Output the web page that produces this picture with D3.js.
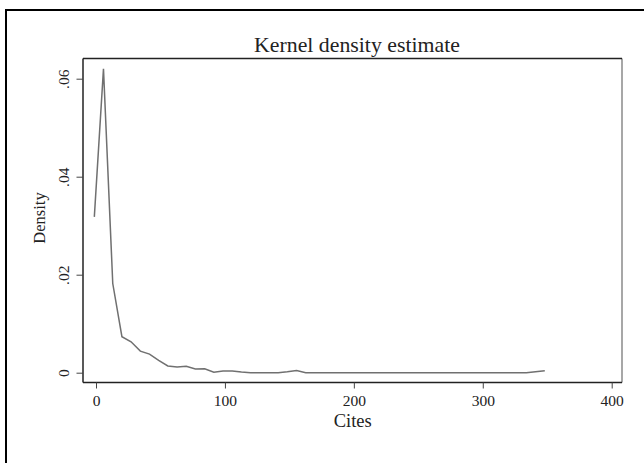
<!DOCTYPE html>
<html lang="en">
<head>
<meta charset="UTF-8">
<script src="https://cdn.jsdelivr.net/npm/d3@7"></script>
<style>
  body { margin: 0; background: #fff; }
  text { font-family: "Liberation Serif", "DejaVu Serif", serif; fill: #222; }
</style>
</head>
<body>
<div id="fig"></div>
<script>
// kernel density evaluation points (cites) and estimated density
const cites = [-1.3, 5.8, 13.0, 20.1, 27.2, 34.4, 41.5, 48.6, 55.7, 62.9,
  70.0, 77.1, 84.3, 91.4, 98.5, 105.7, 112.8, 119.9, 127.0, 134.2,
  141.3, 148.4, 155.6, 162.7, 169.8, 177.0, 184.1, 191.2, 198.3, 205.5,
  212.6, 219.7, 226.9, 234.0, 241.1, 248.2, 255.4, 262.5, 269.6, 276.8,
  283.9, 291.0, 298.1, 305.3, 312.4, 319.5, 326.7, 333.8, 340.9, 348.1];
const density = [0.0318, 0.0620, 0.0182, 0.00735, 0.0063, 0.0044, 0.0038, 0.0025, 0.00137, 0.00116,
  0.0013, 0.00075, 0.0008, 0.0001, 0.00035, 0.00035, 0.00015, 0, 0, 0,
  0, 0.0002, 0.00045, 0, 0, 0, 0, 0, 0, 0,
  0, 0, 0, 0, 0, 0, 0, 0, 0, 0,
  0, 0, 0, 0, 0, 0, 0, 0, 0.0002, 0.0004];
const xTicks = [0, 100, 200, 300, 400];
const yTicks = [0, 0.02, 0.04, 0.06];

const width = 644, height = 463;
const plot = {left: 83, right: 622, top: 58.5, bottom: 382.5};

const svg = d3.select("#fig").append("svg")
    .attr("width", width)
    .attr("height", height);

svg.append("rect").attr("width", width).attr("height", height).attr("fill", "#fff");

// outer graph border (runs off the window to the right and bottom)
svg.append("rect")
    .attr("x", 6).attr("y", 10)
    .attr("width", 700).attr("height", 500)
    .attr("fill", "none")
    .attr("stroke", "#000")
    .attr("stroke-width", 2);

const x = d3.scaleLinear().domain([0, 400]).range([96, 611.7]);
const y = d3.scaleLinear().domain([0, 0.06]).range([372.7, 78.7]);

// plot region frame
svg.append("line")
    .attr("x1", plot.right).attr("x2", plot.right)
    .attr("y1", plot.top).attr("y2", plot.bottom)
    .attr("stroke", "#8a8a8a").attr("stroke-width", 1.5);
svg.append("line")
    .attr("x1", plot.left).attr("x2", plot.right)
    .attr("y1", plot.top).attr("y2", plot.top)
    .attr("stroke", "#222").attr("stroke-width", 1.5);

const xAxis = svg.append("g")
    .attr("transform", `translate(0,${plot.bottom})`)
    .call(d3.axisBottom(x).tickValues(xTicks).tickSize(6).tickSizeOuter(0));
xAxis.select(".domain").attr("d", `M${plot.left},0H${plot.right}`)
    .attr("stroke", "#222").attr("stroke-width", 1.5);
xAxis.selectAll(".tick line").attr("stroke", "#444");
xAxis.selectAll(".tick text")
    .attr("y", 23).attr("dy", null)
    .style("font-size", "15.5px")
    .style("font-family", "Liberation Serif, serif")
    .attr("fill", "#222");

const yAxis = svg.append("g")
    .attr("transform", `translate(${plot.left},0)`)
    .call(d3.axisLeft(y).tickValues(yTicks).tickSize(6.5).tickSizeOuter(0)
        .tickFormat(d => d === 0 ? "0" : d3.format(".2f")(d).replace(/^0/, "")));
yAxis.select(".domain").attr("d", `M0,${plot.top}V${plot.bottom}`)
    .attr("stroke", "#222").attr("stroke-width", 1.5);
yAxis.selectAll(".tick line").attr("stroke", "#444");
yAxis.selectAll(".tick text")
    .attr("x", null).attr("dy", null)
    .attr("transform", "translate(-14.5,0) rotate(-90)")
    .attr("text-anchor", "middle")
    .style("font-size", "15.5px")
    .style("font-family", "Liberation Serif, serif")
    .attr("fill", "#222");

// density line
const pts = cites.map((c, i) => [c, density[i]]);
svg.append("path")
    .datum(pts)
    .attr("fill", "none")
    .attr("stroke", "#707070")
    .attr("stroke-width", 1.5)
    .attr("d", d3.line().x(d => x(d[0])).y(d => y(d[1])));

// titles
svg.append("text")
    .attr("x", 357).attr("y", 51.7)
    .attr("text-anchor", "middle")
    .style("font-size", "21.8px")
    .text("Kernel density estimate");

svg.append("text")
    .attr("x", 352.7).attr("y", 426.7)
    .attr("text-anchor", "middle")
    .style("font-size", "18.5px")
    .text("Cites");

svg.append("text")
    .attr("transform", "translate(45,218) rotate(-90)")
    .attr("text-anchor", "middle")
    .style("font-size", "16.5px")
    .text("Density");
</script>
</body>
</html>
